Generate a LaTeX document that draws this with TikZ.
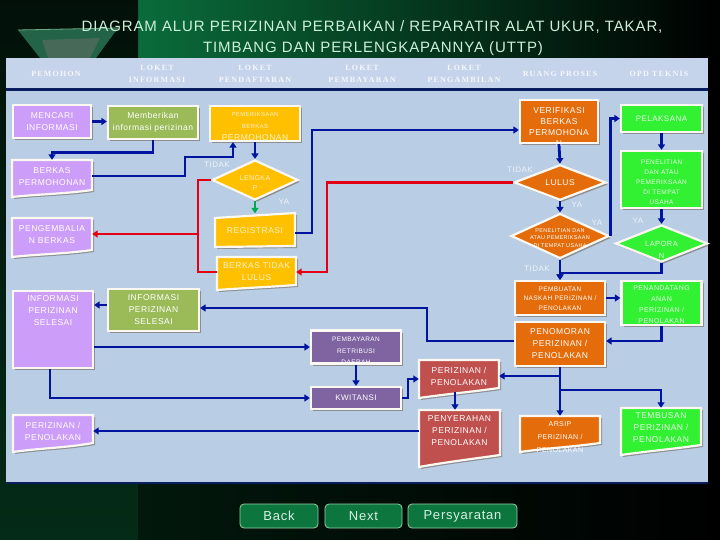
\documentclass[tikz,border=0pt]{standalone}
\usepackage{fontspec}
\setmainfont{Liberation Sans}
\newfontfamily\nf[LetterSpace=6]{Liberation Sans}
\newfontfamily\hf[LetterSpace=15]{Liberation Serif}
\usetikzlibrary{shapes.geometric,shadows,arrows.meta,calc}
\definecolor{panel}{RGB}{185,205,229}
\definecolor{hdr}{RGB}{197,212,234}
\definecolor{hdrtxt}{RGB}{244,247,252}
\definecolor{navyl}{RGB}{10,30,95}
\definecolor{navy}{RGB}{0,20,160}
\definecolor{redc}{RGB}{228,0,20}
\definecolor{grnarrow}{RGB}{0,170,80}
\definecolor{bord}{RGB}{250,248,240}
\definecolor{shad}{RGB}{110,100,90}
\definecolor{purl}{RGB}{204,158,250}
\definecolor{olive}{RGB}{155,187,89}
\definecolor{yel}{RGB}{255,192,0}
\definecolor{ytxt}{RGB}{255,242,205}
\definecolor{dpur}{RGB}{128,100,162}
\definecolor{redf}{RGB}{192,80,77}
\definecolor{oran}{RGB}{228,108,10}
\definecolor{gre}{RGB}{50,240,50}
\definecolor{gtxt}{RGB}{230,255,230}
\definecolor{labc}{RGB}{238,242,250}
\definecolor{grnA}{RGB}{10,108,58}
\definecolor{grnB}{RGB}{6,80,42}
\definecolor{titc}{RGB}{205,240,218}
\definecolor{btnc}{RGB}{12,118,62}
\definecolor{btnb}{RGB}{150,210,170}
\definecolor{btnt}{RGB}{215,240,225}
\definecolor{crysA}{RGB}{35,100,72}
\definecolor{crysB}{RGB}{70,105,88}
\definecolor{crysE}{RGB}{110,170,135}
\begin{document}
\begin{tikzpicture}[x=1pt,y=-1pt,
 shd/.style={drop shadow={shadow xshift=2pt,shadow yshift=-2pt,fill=shad,opacity=0.6}},
 box/.style={draw=bord, line width=2.2pt, inner sep=0pt, align=center, text=white, shd},
 dia/.style={box, shape=diamond},
 sz/.style 2 args={minimum width=#1pt, minimum height=#2pt},
 docsh/.style={draw=bord, line width=2.2pt, shd},
 ghost/.style={inner sep=0pt, draw=none, fill=none},
 tx/.style={inner sep=0pt, align=center, text=white},
 f85/.style={font=\nf\fontsize{8.5}{12}\selectfont},
 f8/.style={font=\nf\fontsize{8}{11}\selectfont},
 f7/.style={font=\nf\fontsize{7}{10.5}\selectfont},
 f65/.style={font=\nf\fontsize{6.5}{10}\selectfont},
 hd/.style={inner sep=0pt, align=center, text=hdrtxt, font=\hf\bfseries\fontsize{8}{12}\selectfont},
 lab/.style={inner sep=0pt, text=labc, font=\nf\fontsize{8}{9}\selectfont},
 conn/.style={draw=navy, line width=2.8pt, -{Triangle[length=5.5pt,width=7pt]}},
 connG/.style={draw=grnarrow, line width=2.8pt, -{Triangle[length=5.5pt,width=7pt]}},
 rline/.style={draw=redc, line width=2.8pt},
 rconn/.style={rline, -{Triangle[length=5.5pt,width=7pt]}},
 btn/.style={draw=btnb, line width=0.8pt, fill=btnc, rounded corners=4pt, text=btnt, font=\nf\fontsize{13}{14}\selectfont, inner sep=0pt},
 ttl/.style={inner sep=0pt, anchor=base, text=titc, font=\nf\fontsize{15}{18}\selectfont}
]
\useasboundingbox (0,0) rectangle (720,540);
% background
\fill[black] (0,0) rectangle (720,540);
\shade[left color=grnA, middle color=grnB, right color=black] (138,0) rectangle (720,58);
\shade[top color=black!85!grnA, middle color=grnA, bottom color=black!60!grnA] (0,0) rectangle (138,540);
\shade[left color=black!70!grnB, right color=black] (138,483) rectangle (720,540);
% crystal
\fill[crysA] (18,30) -- (118,28) -- (96,58) -- (40,58) -- cycle;
\fill[crysB] (42,40) -- (100,38) -- (90,58) -- (48,58) -- cycle;
\draw[crysE, line width=0.8pt] (18,30) -- (118,28);
% title
\node[ttl] (title1) at (372,32) {DIAGRAM ALUR PERIZINAN PERBAIKAN / REPARATIR ALAT UKUR, TAKAR,};
\node[ttl] (title2) at (373,53) {TIMBANG DAN PERLENGKAPANNYA (UTTP)};
% panel
\fill[panel] (6,58) rectangle (708,483);
\fill[hdr] (6,58) rectangle (708,88);
\draw[navyl, line width=3pt] (6,89.5) -- (708,89.5);
\draw[navyl, line width=2pt] (6,483) -- (708,483);
% header labels
\node[hd] (h1) at (56,74) {PEMOHON};
\node[hd] (h2) at (157,74) {LOKET\\INFORMASI};
\node[hd] (h3) at (255,74) {LOKET\\PENDAFTARAN};
\node[hd] (h4) at (362,74) {LOKET\\PEMBAYARAN};
\node[hd] (h5) at (464,74) {LOKET\\PENGAMBILAN};
\node[hd] (h6) at (560,74) {RUANG PROSES};
\node[hd] (h7) at (659,74) {OPD TEKNIS};

% ---- PEMOHON column
\node[box, fill=purl, sz={78}{33}, f85] (mencari) at (52,121.5) {MENCARI\\INFORMASI};
\filldraw[docsh, fill=purl] (12,160) -- (92,160) -- (92,190) .. controls (64,194) and (40,194) .. (12,197) -- cycle;
\node[ghost, sz={80}{32}] (berkas) at (52,176) {};
\node[tx, f85] (berkas-t) at (52,177) {BERKAS\\PERMOHONAN};
\filldraw[docsh, fill=purl] (12,218) -- (92,218) -- (92,250) .. controls (64,254) and (40,254) .. (12,257) -- cycle;
\node[ghost, sz={80}{32}] (pengembalian) at (52,234) {};
\node[tx, f85] (pengembalian-t) at (52,235) {PENGEMBALIA\\N BERKAS};
\node[box, fill=purl, sz={80}{77}] (infop) at (53,329.5) {};
\node[tx, f85] (infop-t) at (53,311) {INFORMASI\\PERIZINAN\\SELESAI};
\filldraw[docsh, fill=purl] (13,415) -- (93,415) -- (93,443) .. controls (65,448) and (41,448) .. (13,452) -- cycle;
\node[ghost, sz={80}{30}] (perizp) at (53,430) {};
\node[tx, f85] (perizp-t) at (53,431) {PERIZINAN /\\PENOLAKAN};

% ---- LOKET INFORMASI
\node[box, fill=olive, sz={90}{33}, f85] (memberi) at (153,122.5) {Memberikan\\informasi perizinan};
\node[box, fill=olive, sz={91}{42}, f85] (olive) at (153.5,310) {INFORMASI\\PERIZINAN\\SELESAI};

% ---- LOKET PENDAFTARAN
\node[box, fill=yel, sz={90}{35}] (pemeriksaan) at (255,123.5) {};
\node[tx, text=ytxt] (pemeriksaan-t) at (255,126) {{\nf\fontsize{6}{10}\selectfont PEMERIKSAAN}\\{\nf\fontsize{6}{10}\selectfont BERKAS}\\{\nf\fontsize{8.5}{12}\selectfont PERMOHONAN}};
\node[dia, fill=yel, sz={86}{40}] (lengkap) at (255,180) {};
\node[tx, text=ytxt, f7] (lengkap-t) at (255,183) {LENGKA\\P};
\filldraw[docsh, fill=yel] (215,218) -- (295,213) -- (295,246) -- (215,247) -- cycle;
\node[ghost, sz={80}{33}] (registrasi) at (255,230) {};
\node[tx, text=ytxt, f85] (registrasi-t) at (255,231) {REGISTRASI};
\filldraw[docsh, fill=yel] (217,257) -- (296,257) -- (296,285) .. controls (268,287) and (245,288) .. (217,290) -- cycle;
\node[ghost, sz={79}{30}] (btl) at (256.5,272) {};
\node[tx, text=ytxt, f85] (btl-t) at (256.5,272) {BERKAS TIDAK\\LULUS};

% ---- LOKET PEMBAYARAN
\node[box, fill=dpur, sz={90}{33}] (pembayaran) at (356,347) {};
\node[tx, font=\nf\fontsize{6.5}{11.5}\selectfont] (pembayaran-t) at (356,351) {PEMBAYARAN\\RETRIBUSI\\DAERAH};
\node[box, fill=dpur, sz={90}{22}, f8] (kwitansi) at (356,398) {KWITANSI};

% ---- LOKET PENGAMBILAN
\filldraw[docsh, fill=redf] (419,360) -- (499,360) -- (499,388) .. controls (471,392) and (447,394) .. (419,398) -- cycle;
\node[ghost, sz={80}{32}] (redp) at (459,376) {};
\node[tx, f85] (redp-t) at (459,376) {PERIZINAN /\\PENOLAKAN};
\filldraw[docsh, fill=redf] (419,410) -- (500,410) -- (500,455) .. controls (472,459) and (447,462) .. (419,467) -- cycle;
\node[ghost, sz={81}{42}] (penyerahan) at (459.5,431) {};
\node[tx, f85] (penyerahan-t) at (459.5,431) {PENYERAHAN\\PERIZINAN /\\PENOLAKAN};

% ---- RUANG PROSES
\node[box, fill=oran, sz={78}{43}] (verifikasi) at (559,121.5) {};
\node[tx, font=\nf\fontsize{8.5}{11}\selectfont] (verifikasi-t) at (559,127.5) {VERIFIKASI\\BERKAS\\PERMOHONA\\N};
\node[dia, fill=oran, sz={92}{35}, f85] (lulus) at (560,182.5) {LULUS};
\node[dia, fill=oran, sz={98}{45}] (pdiamond) at (560,236) {};
\node[tx, font=\nf\fontsize{5.5}{7.5}\selectfont] (pdiamond-t) at (560,238) {PENELITIAN DAN\\ATAU PEMERIKSAAN\\DI TEMPAT USAHA};
\node[box, fill=oran, sz={90}{34}] (pembuatan) at (560,298) {};
\node[tx, font=\nf\fontsize{6.5}{9.5}\selectfont] (pembuatan-t) at (560,298.5) {PEMBUATAN\\NASKAH PERIZINAN /\\PENOLAKAN};
\node[box, fill=oran, sz={90}{44}, f85] (penomoran) at (560,344) {PENOMORAN\\PERIZINAN /\\PENOLAKAN};
\filldraw[docsh, fill=oran] (520,416) -- (600,416) -- (600,443) .. controls (572,447) and (548,448) .. (520,452) -- cycle;
\node[ghost, sz={80}{27}] (arsip) at (560,429.5) {};
\node[tx, font=\nf\fontsize{7}{13}\selectfont] (arsip-t) at (560,437) {ARSIP\\PERIZINAN /\\PENOLAKAN};

% ---- OPD TEKNIS
\node[box, fill=gre, sz={81}{27}, f8, text=gtxt] (pelaksana) at (661.5,118.5) {PELAKSANA};
\node[box, fill=gre, sz={81}{57}] (penelitian) at (661.5,179.5) {};
\node[tx, text=gtxt, font=\nf\fontsize{6.5}{10}\selectfont] (penelitian-t) at (661.5,182) {PENELITIAN\\DAN ATAU\\PEMERIKSAAN\\DI TEMPAT\\USAHA};
\node[dia, fill=gre, sz={92}{37}] (laporan) at (661.5,243.5) {};
\node[tx, text=gtxt, font=\nf\fontsize{7.5}{12}\selectfont] (laporan-t) at (661.5,250) {LAPORA\\N};
\node[box, fill=gre, sz={80}{44}] (penandatangan) at (661.5,303) {};
\node[tx, text=gtxt, font=\nf\fontsize{7}{11}\selectfont] (penandatangan-t) at (661.5,305) {PENANDATANG\\ANAN\\PERIZINAN /\\PENOLAKAN};
\filldraw[docsh, fill=gre] (621,408) -- (701,408) -- (701,445) .. controls (673,449) and (649,451) .. (621,455) -- cycle;
\node[ghost, sz={80}{37}] (tembusan) at (661,426.5) {};
\node[tx, text=gtxt, f85] (tembusan-t) at (661,428) {TEMBUSAN\\PERIZINAN /\\PENOLAKAN};

% ---- connectors (blue)
\draw[conn] (mencari.east) -- (mencari.east -| memberi.west);
\draw[conn] (memberi.south) -- ++(0,12.5) -| (berkas.north);
\coordinate (b1) at (185,176);
\coordinate (b2) at (233,157);
\draw[conn] (berkas.east) -- (berkas.east -| b1) |- (b2) -- (b2 |- pemeriksaan.south);
\draw[conn] (pemeriksaan.south) -- (lengkap.north);
\draw[connG] (lengkap.south) -- (registrasi.north);
\coordinate (r1) at (312,130);
\draw[conn] ([yshift=-3pt]registrasi.east) -| (r1) -- (r1 -| verifikasi.west);
\draw[conn] (verifikasi.south) -- (lulus.north);
\draw[conn] (lulus.south) -- (pdiamond.north);
\draw[conn] (pdiamond.east) |- (pelaksana.west);
\draw[conn] (pelaksana.south) -- (penelitian.north);
\draw[conn] (penelitian.south) -- (laporan.north);
\coordinate (l1) at (560,273);
\draw[conn] (laporan.south) |- (l1) -- (pembuatan.north);
\draw[conn] (pdiamond.south) -- (pembuatan.north);
\draw[conn] (pembuatan.east) -- (pembuatan.east -| penandatangan.west);
\draw[conn] (penandatangan.south) |- ([yshift=3pt]penomoran.east);
\coordinate (n1) at (427,308);
\draw[conn] ([yshift=3pt]penomoran.west) -| (n1) -- (n1 -| olive.east);
\draw[conn] ([yshift=5pt]olive.west) -- ([yshift=5pt]olive.west -| infop.east);
\draw[conn] (pembayaran.west -| infop.east) -- (pembayaran.west);
\draw[conn] ([xshift=-3pt]infop.south) |- (kwitansi.west);
\draw[conn] (pembayaran.south) -- (kwitansi.north);
\coordinate (k1) at (408,379);
\draw[conn] (kwitansi.east) -| (k1) -- (k1 -| redp.west);
\draw[conn] (penomoran.south) |- (redp.east);
\draw[conn] (penomoran.south) -- (arsip.north);
\coordinate (a1) at (560,390);
\draw[conn] (a1) -| (tembusan.north);
\draw[conn] ([xshift=-4pt]redp.south) -- ([xshift=-4pt]redp.south |- penyerahan.north);
\draw[conn] (penyerahan.west) -- (penyerahan.west -| perizp.east);

% ---- connectors (red)
\coordinate (d1) at (198,272);
\draw[rline] (lengkap.west) -| (d1) -- (btl.west);
\coordinate (d2) at (198,234);
\draw[rconn] (d2) -- (pengembalian.east);
\coordinate (e1) at (327,272);
\draw[rconn] (lulus.west) -| (e1) -- (btl.east);

% ---- labels
\node[lab] (l-tidak1) at (217,165) {TIDAK};
\node[lab] (l-ya1) at (284,202) {YA};
\node[lab] (l-tidak2) at (520,170) {TIDAK};
\node[lab] (l-ya2) at (577,205) {YA};
\node[lab] (l-ya3) at (597,223) {YA};
\node[lab] (l-ya4) at (638,221) {YA};
\node[lab] (l-tidak3) at (537,269) {TIDAK};

% ---- buttons
\node[btn, sz={78}{24}] (back) at (279,516) {Back};
\node[btn, sz={77}{24}] (next) at (363.5,516) {Next};
\node[btn, sz={109}{24}] (pers) at (462.5,516) {Persyaratan};
\end{tikzpicture}
\end{document}
